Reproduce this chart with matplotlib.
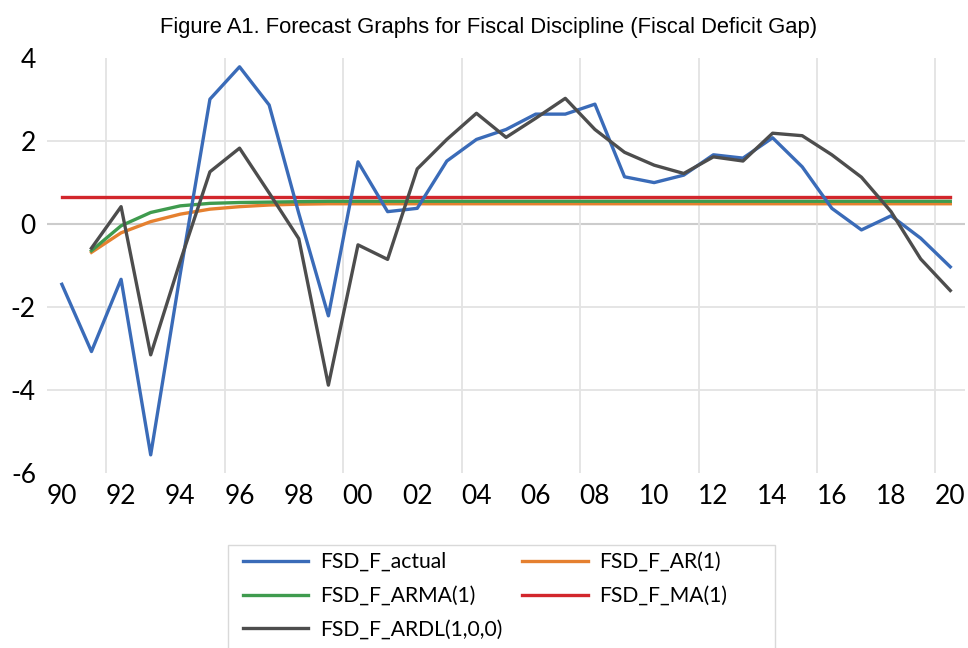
import matplotlib
matplotlib.use("Agg")
import matplotlib.pyplot as plt
from matplotlib import font_manager
from matplotlib.patches import Rectangle

years = list(range(1990, 2021))
tick_years = list(range(1990, 2021, 2))
tick_labels = ['90', '92', '94', '96', '98', '00', '02', '04', '06', '08',
               '10', '12', '14', '16', '18', '20']

# 1990..2020
fsd_actual = [-1.46, -3.08, -1.34, -5.57, -1.2, 3.0, 3.78, 2.86, 0.25, -2.22,
              1.49, 0.29, 0.37, 1.51, 2.03, 2.27, 2.64, 2.64, 2.88, 1.13,
              0.99, 1.17, 1.66, 1.58, 2.07, 1.37, 0.37, -0.15, 0.19, -0.35,
              -1.04]
# forecasts start in 1991
fsd_ar1 = [-0.69, -0.22, 0.05, 0.23, 0.35, 0.41, 0.45, 0.47, 0.48, 0.48,
           0.48, 0.48, 0.48, 0.48, 0.48, 0.48, 0.48, 0.48, 0.48, 0.48,
           0.48, 0.48, 0.48, 0.48, 0.48, 0.48, 0.48, 0.48, 0.48, 0.48]
fsd_arma1 = [-0.65, -0.05, 0.27, 0.43, 0.49, 0.51, 0.52, 0.53, 0.54, 0.54,
             0.54, 0.54, 0.54, 0.54, 0.54, 0.54, 0.54, 0.54, 0.54, 0.54,
             0.54, 0.54, 0.54, 0.54, 0.54, 0.54, 0.54, 0.54, 0.54, 0.54]
fsd_ma1 = [0.64] * 31
fsd_ardl = [-0.59, 0.41, -3.16, -0.9, 1.25, 1.82, 0.74, -0.36, -3.89, -0.51,
            -0.86, 1.32, 2.03, 2.66, 2.08, 2.54, 3.02, 2.27, 1.72, 1.41,
            1.21, 1.61, 1.51, 2.18, 2.12, 1.66, 1.12, 0.29, -0.85, -1.61]

names = {f.name for f in font_manager.fontManager.ttflist}
title_font = 'Liberation Sans Narrow' if 'Liberation Sans Narrow' in names else 'Liberation Sans'
body_font = 'Lato'

fig = plt.figure(figsize=(9.68, 6.48), dpi=100)
ax = fig.add_axes([0.0486, 0.2705, 0.9484, 0.6405])

lw = 2.4
l_act, = ax.plot(years, fsd_actual, color='#3A6BB8', lw=lw, zorder=4)
l_ar, = ax.plot(years[1:], fsd_ar1, color='#E5802F', lw=lw, zorder=3)
l_arma, = ax.plot(years[1:], fsd_arma1, color='#3F9B4E', lw=lw, zorder=3)
l_ma, = ax.plot(years, fsd_ma1, color='#D2262C', lw=lw, zorder=3)
l_ardl, = ax.plot(years[1:], fsd_ardl, color='#4D4D4D', lw=lw, zorder=5)

ax.set_xlim(1989.5, 2020.5)
ax.set_ylim(-6, 4)
ax.set_yticks([-6, -4, -2, 0, 2, 4])
ax.set_yticklabels(['-6', '-4', '-2', '0', '2', '4'], fontsize=19, family=body_font)
ax.set_xticks(tick_years)
ax.set_xticklabels(tick_labels, fontsize=19, family=body_font)
ax.tick_params(length=0, pad=8)

for y in [-4, -2, 2]:
    ax.axhline(y, color='#E3E3E3', lw=1.3, zorder=1)
ax.axhline(0, color='#CCCCCC', lw=1.5, zorder=1)
for x in range(1991, 2020, 4):
    ax.axvline(x + 0.5, color='#E3E3E3', lw=1.3, zorder=1)

for s in ax.spines.values():
    s.set_visible(False)

fig.text(0.505, 0.957, 'Figure A1. Forecast Graphs for Fiscal Discipline (Fiscal Deficit Gap)',
         ha='center', va='center', fontsize=15.8, family=title_font)

# legend box like the Excel one (wider than its content, cut at the bottom)
fig.patches.append(Rectangle((228 / 968, -0.01), (775 - 228) / 968, 0.01 + (648 - 545) / 648,
                             transform=fig.transFigure, fill=False,
                             edgecolor='#D9D9D9', lw=1.0))

fig.legend([l_act, l_arma, l_ardl, l_ar, l_ma],
           ['FSD_F_actual', 'FSD_F_ARMA(1)', 'FSD_F_ARDL(1,0,0)', 'FSD_F_AR(1)', 'FSD_F_MA(1)'],
           ncol=2, loc='upper left', bbox_to_anchor=(243 / 968, 1 - 552 / 648),
           prop={'family': body_font, 'size': 15.2}, frameon=False,
           handlelength=3.08, handletextpad=0.57, columnspacing=0.95,
           labelspacing=0.66, borderpad=0, borderaxespad=0)

fig.savefig('out.png', dpi=100)
